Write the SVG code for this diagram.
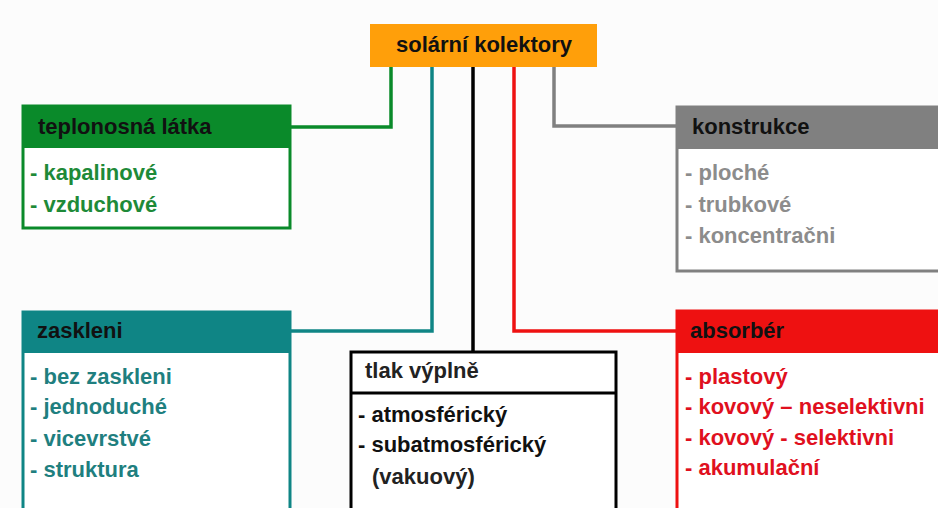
<svg xmlns="http://www.w3.org/2000/svg" width="938" height="508" viewBox="0 0 938 508">
<style>
text{font-family:"Liberation Sans",Arial,sans-serif;font-weight:bold;font-size:22px}
.hd{fill:#111}
.box{fill:#fff;stroke-width:3}
.ln{fill:none;stroke-width:3.5}
</style>
<rect x="0" y="0" width="938" height="508" fill="#fcfcfc"/>
<g id="connectors">
<polyline class="ln" stroke="#0a8a2a" points="391,67 391,127 290,127"/>
<polyline class="ln" stroke="#0f8585" points="432,67 432,331 290,331"/>
<polyline class="ln" stroke="#000" points="473,67 473,352"/>
<polyline class="ln" stroke="#ee1111" points="514,67 514,331 677,331"/>
<polyline class="ln" stroke="#808080" points="554,67 554,126 677,126"/>
</g>
<g id="root">
<rect x="370" y="24" width="227" height="43" fill="#ff9f0a"/>
<text class="hd" x="484" y="52" text-anchor="middle">solární kolektory</text>
</g>
<g id="teplonosna">
<rect class="box" x="23" y="106" width="267" height="122" stroke="#0a8a2a"/>
<rect x="23" y="106" width="267" height="42" fill="#0a8a2a"/>
<text class="hd" x="38" y="134">teplonosná látka</text>
<text fill="#1e8a38" x="30" y="180">- kapalinové</text>
<text fill="#1e8a38" x="30" y="212">- vzduchové</text>
</g>
<g id="konstrukce">
<rect class="box" x="677" y="107" width="270" height="164" stroke="#808080"/>
<rect x="677" y="107" width="270" height="42" fill="#808080"/>
<text class="hd" x="692" y="134">konstrukce</text>
<text fill="#8c8c8c" x="685" y="180">- ploché</text>
<text fill="#8c8c8c" x="685" y="212">- trubkové</text>
<text fill="#8c8c8c" x="685" y="243">- koncentračni</text>
</g>
<g id="zaskleni">
<rect class="box" x="23" y="312" width="267" height="210" stroke="#0f8585"/>
<rect x="23" y="312" width="267" height="41" fill="#0f8585"/>
<text class="hd" x="37" y="338">zaskleni</text>
<text fill="#1f7f7f" x="30" y="384">- bez zaskleni</text>
<text fill="#1f7f7f" x="30" y="414">- jednoduché</text>
<text fill="#1f7f7f" x="30" y="446">- vicevrstvé</text>
<text fill="#1f7f7f" x="30" y="477">- struktura</text>
</g>
<g id="tlak">
<rect class="box" x="351" y="352" width="265" height="170" stroke="#000"/>
<line x1="351" y1="393" x2="616" y2="393" stroke="#000" stroke-width="3"/>
<text fill="#222" x="365" y="378">tlak výplně</text>
<text fill="#111" x="358" y="422">- atmosférický</text>
<text fill="#111" x="358" y="452">- subatmosférický</text>
<text fill="#222" x="372" y="484">(vakuový)</text>
</g>
<g id="absorber">
<rect class="box" x="677" y="311" width="270" height="210" stroke="#ee1111"/>
<rect x="677" y="311" width="270" height="42" fill="#ee1111"/>
<text class="hd" x="690" y="338">absorbér</text>
<text fill="#e0101e" x="685" y="384">- plastový</text>
<text fill="#e0101e" x="685" y="414">- kovový – neselektivni</text>
<text fill="#e0101e" x="685" y="445">- kovový - selektivni</text>
<text fill="#e0101e" x="685" y="475">- akumulační</text>
</g>
</svg>
